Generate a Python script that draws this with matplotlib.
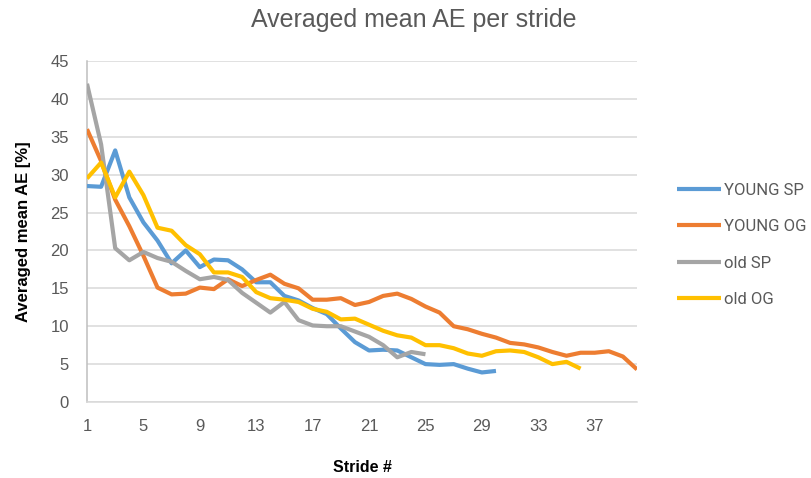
import matplotlib
matplotlib.use("Agg")
import matplotlib.pyplot as plt

# ---- data ----
young_sp = [28.5, 28.4, 33.2, 27.0, 23.7, 21.3, 18.3, 20.0, 17.8, 18.8, 18.7, 17.5, 15.8, 15.8, 14.0,
            13.4, 12.4, 11.6, 9.7, 7.9, 6.8, 6.9, 6.8, 5.9, 5.0, 4.9, 5.0, 4.4, 3.9, 4.1]
young_og = [36.0, 31.8, 26.7, 23.2, 19.3, 15.1, 14.2, 14.3, 15.1, 14.9, 16.2, 15.3, 16.1, 16.8, 15.6,
            15.0, 13.5, 13.5, 13.7, 12.8, 13.2, 14.0, 14.3, 13.6, 12.6, 11.8, 10.0, 9.6, 9.0, 8.5,
            7.8, 7.6, 7.2, 6.6, 6.1, 6.5, 6.5, 6.7, 6.0, 4.3]
old_sp = [42.0, 34.0, 20.3, 18.7, 19.8, 19.0, 18.5, 17.3, 16.2, 16.5, 16.1, 14.4, 13.1, 11.8, 13.2,
          10.8, 10.1, 10.0, 10.0, 9.3, 8.6, 7.5, 5.9, 6.6, 6.3]
old_og = [29.5, 31.6, 27.0, 30.4, 27.3, 23.0, 22.6, 20.7, 19.5, 17.1, 17.1, 16.5, 14.5, 13.7, 13.5,
          13.2, 12.3, 11.9, 10.9, 11.0, 10.2, 9.4, 8.8, 8.5, 7.5, 7.5, 7.1, 6.4, 6.1, 6.7,
          6.8, 6.6, 5.9, 5.0, 5.3, 4.4]
series_names = ["YOUNG SP", "YOUNG OG", "old SP", "old OG"]
series_values = [young_sp, young_og, old_sp, old_og]
colors = ["#5B9BD5", "#ED7D31", "#A5A5A5", "#FFC000"]
x_ticks = [1, 5, 9, 13, 17, 21, 25, 29, 33, 37]
y_ticks = [0, 5, 10, 15, 20, 25, 30, 35, 40, 45]

fam_tick = ["Liberation Sans", "DejaVu Sans"]
fam_leg = ["Roboto", "DejaVu Sans"]
fam_bold = ["Liberation Sans", "DejaVu Sans"]

fig = plt.figure(figsize=(8.11, 4.78), dpi=100)
ax = fig.add_axes([87/811, 76/478, 550/811, 341/478])

for name, vals, c in zip(series_names, series_values, colors):
    xs = list(range(1, len(vals) + 1))
    ax.plot(xs, vals, color=c, lw=3.0, label=name, solid_capstyle="butt",
            solid_joinstyle="round", zorder=3)

ax.set_xlim(1, 40)
ax.set_ylim(0, 45)
ax.set_xticks(x_ticks)
ax.set_yticks(y_ticks)
ax.yaxis.grid(True, color="#D9D9D9", lw=1.1, zorder=0)
ax.set_axisbelow(True)
for s in ["top", "right"]:
    ax.spines[s].set_visible(False)
ax.spines["bottom"].set_color("#D9D9D9")
ax.spines["bottom"].set_linewidth(1.1)
ax.spines["left"].set_color("#BFBFBF")
ax.spines["left"].set_linewidth(1.1)
ax.tick_params(axis="both", length=0, colors="#595959", labelsize=12)
ax.tick_params(axis="y", pad=13)
ax.tick_params(axis="x", pad=12)
for lab in ax.get_xticklabels() + ax.get_yticklabels():
    lab.set_family(fam_tick)
    lab.set_color("#595959")

fig.text(414/811, 1 - 27/478, "Averaged mean AE per stride", ha="center", va="baseline",
         fontsize=18, color="#595959", family=fam_tick)
fig.text(24/811, 1 - 232/478, "Averaged mean AE [%]", ha="center", va="center",
         rotation=90, fontsize=12, fontweight="bold", color="#000000", family=fam_bold)
fig.text(362/811, 1 - 468/478, "Stride #", ha="center", va="center",
         fontsize=11.5, fontweight="bold", color="#000000", family=fam_bold)

leg = fig.legend(loc="upper left", bbox_to_anchor=(677/811, 1 - 183/478), frameon=False,
                 borderpad=0, borderaxespad=0,
                 handlelength=2.63, handletextpad=0.2, labelspacing=1.28,
                 prop={"family": fam_leg, "size": 12})
for t in leg.get_texts():
    t.set_color("#595959")

fig.savefig("out.png", dpi=100)
